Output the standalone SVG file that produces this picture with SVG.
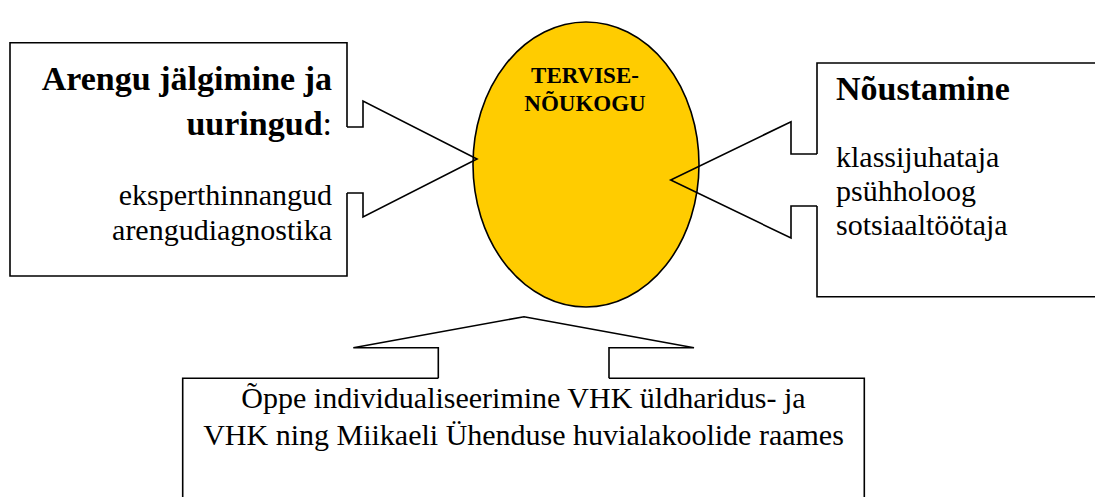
<svg xmlns="http://www.w3.org/2000/svg" width="1095" height="497" viewBox="0 0 1095 497">
<style>
.ol{fill:none;stroke:#000;stroke-width:1.6;stroke-linejoin:miter}
text{font-family:'Liberation Serif','DejaVu Serif',serif;fill:#000}
.r{font-size:30px}
.b{font-size:34px;font-weight:bold}
.e{font-size:23px;font-weight:bold}
</style>
<rect width="1095" height="497" fill="#fff"/>
<g id="node-center">
<ellipse cx="586" cy="164.5" rx="113" ry="142.5" fill="#FFCC00" stroke="#000" stroke-width="1.6"/>
<text class="e" x="585" y="83" text-anchor="middle">TERVISE-</text>
<text class="e" x="585" y="110.5" text-anchor="middle">NÕUKOGU</text>
</g>
<g id="node-left">
<path class="ol" d="M347,127 V42.7 H10 V276 H347 V193"/>
<text class="b" x="332" y="90" text-anchor="end">Arengu jälgimine ja</text>
<text class="b" x="332" y="135" text-anchor="end">uuringud<tspan font-weight="normal">:</tspan></text>
<text class="r" x="332" y="205" text-anchor="end">eksperthinnangud</text>
<text class="r" x="332" y="240" text-anchor="end">arengudiagnostika</text>
</g>
<g id="node-right">
<path class="ol" d="M817,154 V63 H1100 V296.7 H817 V206"/>
<text class="b" x="836" y="100">Nõustamine</text>
<text class="r" x="836" y="167">klassijuhataja</text>
<text class="r" x="836" y="201">psühholoog</text>
<text class="r" x="836" y="235">sotsiaaltöötaja</text>
</g>
<g id="node-bottom">
<path class="ol" d="M438.3,378.3 H182.7 V505 H864.3 V378.3 H609"/>
<text class="r" x="523.5" y="408" text-anchor="middle">Õppe individualiseerimine VHK üldharidus- ja</text>
<text class="r" x="523.5" y="445" text-anchor="middle">VHK ning Miikaeli Ühenduse huvialakoolide raames</text>
</g>
<g id="connectors">
<path class="ol" d="M347,127 H363 V101 L477,159 L363,217 V193 H347"/>
<path class="ol" d="M817,154 H791 V121.7 L670.7,180 L791,238 V206 H817"/>
<path class="ol" d="M438.3,378.3 V347.7 H353.3 L524,316.7 L694,347.7 H609 V378.3"/>
</g>
</svg>
